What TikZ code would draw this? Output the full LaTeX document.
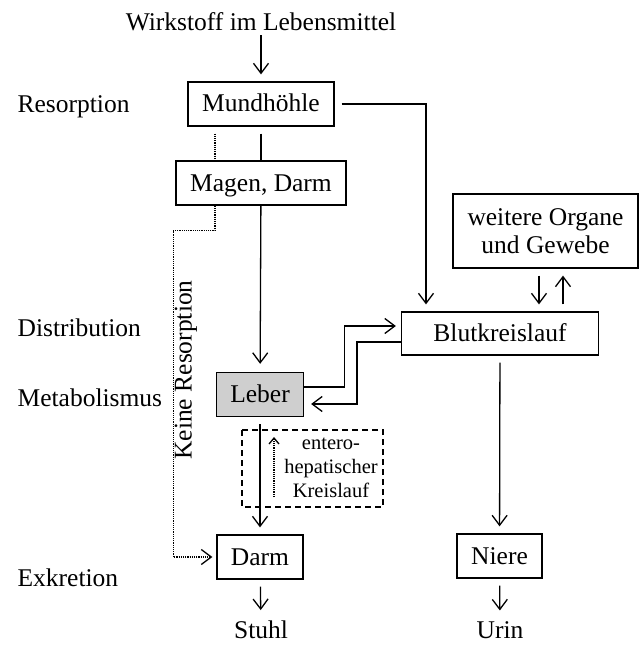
\documentclass[tikz,border=0pt]{standalone}
\usepackage{fontspec}
\setmainfont{Liberation Serif}
\usetikzlibrary{arrows.meta}

\begin{document}
\begin{tikzpicture}[x=1pt,y=-1pt,line width=1.3pt,
  >={Straight Barb[length=10pt,width=15pt]},
  font=\fontsize{25.5}{28}\selectfont,
  box/.style={draw,inner sep=0pt,minimum height=44pt,text height=18pt,text depth=2pt},
  gap/.style={shorten >=7pt,shorten <=7pt},
  stage/.style={anchor=base west,inner sep=0pt},
  dots/.style={dash pattern=on 1.2pt off 1pt}]
\useasboundingbox (0,0) rectangle (639,647);

% Stufen links
\node[stage] (res) at (17,113) {Resorption};
\node[stage] (dis) at (17,336) {Distribution};
\node[stage] (met) at (17,406) {Metabolismus};
\node[stage] (exk) at (17,586) {Exkretion};

% Organe
\node (wirk) at (261,22) {Wirkstoff im Lebensmittel};
\node[box,minimum width=146pt] (mund) at (261,104) {Mundhöhle};
\node[box,minimum width=170pt] (magen) at (261,183) {Magen, Darm};
\node[box,minimum width=87pt,fill=black!19] (leber) at (260,394.5) {Leber};
\node[box,minimum width=86pt] (darm) at (260,557) {Darm};
\node[box,minimum width=197pt,minimum height=43pt] (blut) at (500,333.5) {Blutkreislauf};
\node[box,minimum width=185pt,minimum height=74pt,align=center,text height=,text depth=] (organe) at (545.5,231) {weitere Organe\\und Gewebe};
\node[box,minimum width=85pt] (niere) at (499.5,556) {Niere};
\node (stuhl) at (261,630) {Stuhl};
\node (urin) at (500,630) {Urin};
\node[rotate=90] (keine) at (186,370) {Keine Resorption};

% enterohepatischer Kreislauf
\draw[dash pattern=on 6pt off 4pt] (242,430) rectangle (383,507);
\node[align=center,font=\fontsize{20.5}{24}\selectfont] (ehk) at (331,468) {entero-\\hepatischer\\Kreislauf};
\coordinate (ehs) at (274,497);
\coordinate (ehe) at (274,437);

% Wege
\draw[->,shorten >=7pt] (wirk) -- (mund);
\draw[shorten <=7pt] (mund) -- (magen);
\draw[->,shorten >=8pt] (magen) -- (leber);
\draw[->,gap] (leber) -- (darm);
\draw[->,gap] (darm) -- (stuhl);
\draw[->,gap] (mund.east) -| ([xshift=-74pt]blut.north);
\draw[->,shorten >=5pt] ([yshift=7.5pt]leber.east) -- ++(40,0) |- ([yshift=7.5pt]blut.west);
\draw[->,shorten >=7pt] ([yshift=-8.5pt]blut.west) -- ++(-44,0) |- ([yshift=-9.5pt]leber.east);
\draw[->,gap] ([xshift=-6.5pt]organe.south) -- ([xshift=39pt]blut.north);
\draw[->,gap] ([xshift=63pt]blut.north) -- ([xshift=17.5pt]organe.south);
\draw[->,gap] (blut) -- (niere);
\draw[->,gap] (niere) -- (urin);
\draw[->,dots,>={Straight Barb[length=6pt,width=10pt]}] (ehs) -- (ehe);

% keine Resorption
\draw[dots,shorten <=7pt] ([xshift=-46pt]mund.south) -- ([xshift=-46pt]magen.north);
\draw[->,dots,shorten >=4pt] ([xshift=-46pt]magen.south) -- ++(0,25) -| ([xshift=-43pt]darm.west) -- (darm.west);

\end{tikzpicture}
\end{document}
